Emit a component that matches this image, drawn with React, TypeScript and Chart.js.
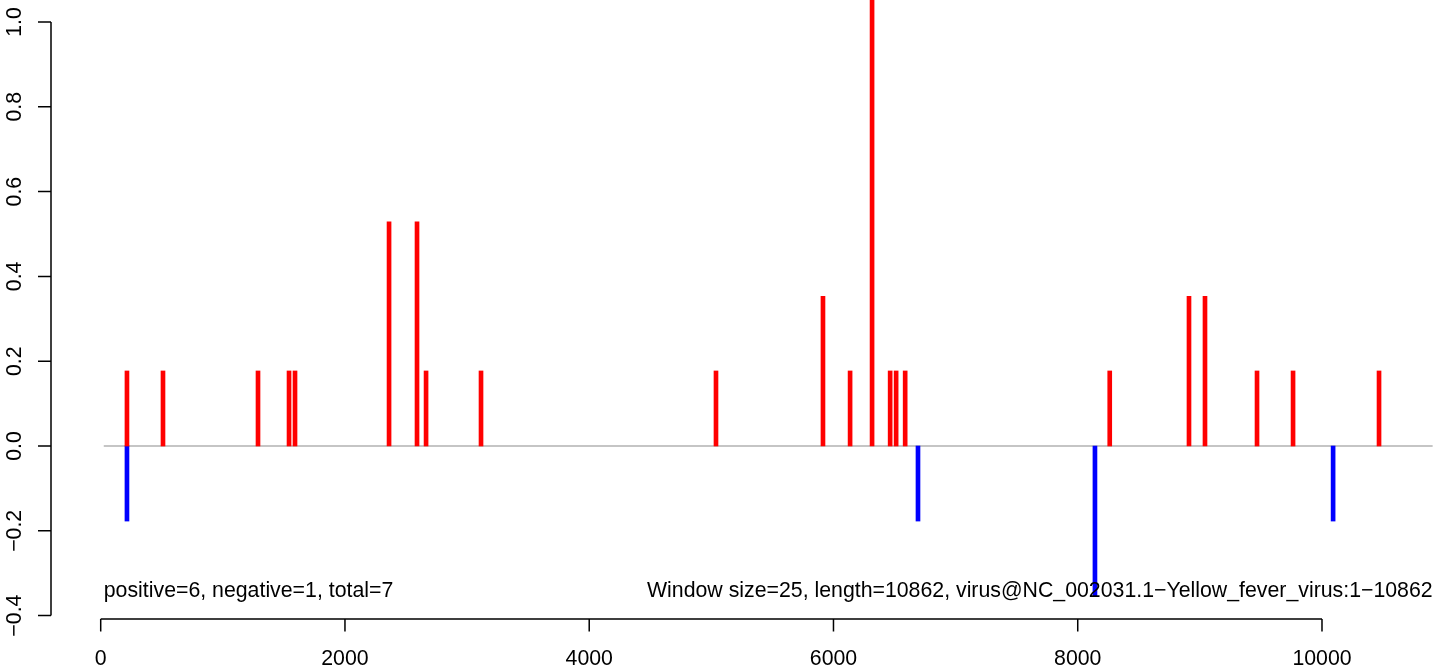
import React, { useEffect, useRef } from "react";
import { Chart, registerables } from "chart.js";

Chart.register(...registerables);

// Positions along the genome (nt) of positive windows and their scores
const positiveX = [215, 510, 1288, 1542, 1591, 2361, 2590, 2664, 3114, 5038, 5914, 6136, 6316, 6464, 6513, 6587, 8262, 8911, 9042, 9468, 9763, 10467];
const positiveY = [0.177, 0.177, 0.177, 0.177, 0.177, 0.529, 0.529, 0.177, 0.177, 0.177, 0.353, 0.177, 1.235, 0.177, 0.177, 0.177, 0.177, 0.353, 0.353, 0.177, 0.177, 0.177];

// Negative windows
const negativeX = [215, 6692, 8141, 10091];
const negativeY = [-0.177, -0.177, -0.353, -0.177];

// Zero reference line extent
const baselineX = [25, 10906];

// Axis ticks
const yTicks = [-0.4, -0.2, 0, 0.2, 0.4, 0.6, 0.8, 1.0];
const xTicks = [0, 2000, 4000, 6000, 8000, 10000];

// Annotations
const leftNote = "positive=6, negative=1, total=7";
const rightNote = "Window size=25, length=10862, virus@NC_002031.1\u2212Yellow_fever_virus:1\u221210862";
const noteY = -0.355;

const FONT = "21.3px 'Liberation Sans', Arial, Helvetica, sans-serif";

function fmtY(v: number): string {
  const s = v.toFixed(1);
  return s.startsWith("-") ? "\u2212" + s.slice(1) : s;
}

export default function App() {
  const ref = useRef<HTMLCanvasElement>(null);

  useEffect(() => {
    const canvas = ref.current;
    if (!canvas) return;

    const rAxes = {
      id: "rAxes",
      afterDraw(chart: any) {
        const { ctx, chartArea } = chart;
        const xs = chart.scales.x;
        const ys = chart.scales.y;
        ctx.save();
        ctx.strokeStyle = "#000000";
        ctx.fillStyle = "#000000";
        ctx.lineWidth = 1.5;
        ctx.font = FONT;

        // y axis
        const ax = chartArea.left;
        ctx.beginPath();
        ctx.moveTo(ax, ys.getPixelForValue(yTicks[0]));
        ctx.lineTo(ax, ys.getPixelForValue(yTicks[yTicks.length - 1]));
        for (const t of yTicks) {
          const y = ys.getPixelForValue(t);
          ctx.moveTo(ax, y);
          ctx.lineTo(ax - 13, y);
        }
        // x axis
        const ay = chartArea.bottom;
        ctx.moveTo(xs.getPixelForValue(xTicks[0]), ay);
        ctx.lineTo(xs.getPixelForValue(xTicks[xTicks.length - 1]), ay);
        for (const t of xTicks) {
          const x = xs.getPixelForValue(t);
          ctx.moveTo(x, ay);
          ctx.lineTo(x, ay + 12.5);
        }
        ctx.stroke();

        // y tick labels (rotated)
        ctx.textAlign = "center";
        ctx.textBaseline = "alphabetic";
        for (const t of yTicks) {
          const y = ys.getPixelForValue(t);
          ctx.save();
          ctx.translate(20.5, y);
          ctx.rotate(-Math.PI / 2);
          ctx.fillText(fmtY(t), 0, 0);
          ctx.restore();
        }
        // x tick labels
        for (const t of xTicks) {
          ctx.fillText(String(t), xs.getPixelForValue(t), 665);
        }

        // notes
        const ny = ys.getPixelForValue(noteY);
        ctx.textAlign = "left";
        ctx.fillText(leftNote, xs.getPixelForValue(baselineX[0]), ny);
        ctx.textAlign = "right";
        ctx.fillText(rightNote, xs.getPixelForValue(baselineX[1]), ny);
        ctx.restore();
      },
    };

    const chart = new Chart(canvas, {
      type: "bar",
      data: {
        datasets: [
          {
            type: "line",
            data: baselineX.map((x) => ({ x, y: 0 })),
            borderColor: "#8c8c8c",
            borderWidth: 1.2,
            pointRadius: 0,
            order: 3,
          } as any,
          {
            data: positiveX.map((x, i) => ({ x, y: positiveY[i] })),
            backgroundColor: "#ff0000",
            borderWidth: 0,
            barThickness: 4,
            grouped: false,
            order: 1,
          },
          {
            data: negativeX.map((x, i) => ({ x, y: negativeY[i] })),
            backgroundColor: "#0000ff",
            borderWidth: 0,
            barThickness: 4,
            grouped: false,
            order: 2,
          },
        ],
      },
      options: {
        responsive: false,
        animation: false,
        devicePixelRatio: 1,
        layout: { padding: { left: 51, right: 0, top: 0, bottom: 46 } },
        plugins: { legend: { display: false }, tooltip: { enabled: false } },
        scales: {
          x: { type: "linear", display: false, offset: false, min: -407, max: 10999 },
          y: { type: "linear", display: false, min: -0.408, max: 1.0519 },
        },
      },
      plugins: [rAxes],
    } as any);

    return () => chart.destroy();
  }, []);

  return (
    <div style={{ position: "fixed", left: 0, top: 0, width: 1444, height: 665, background: "#ffffff" }}>
      <canvas ref={ref} width={1444} height={665} style={{ display: "block", width: 1444, height: 665 }} />
    </div>
  );
}
